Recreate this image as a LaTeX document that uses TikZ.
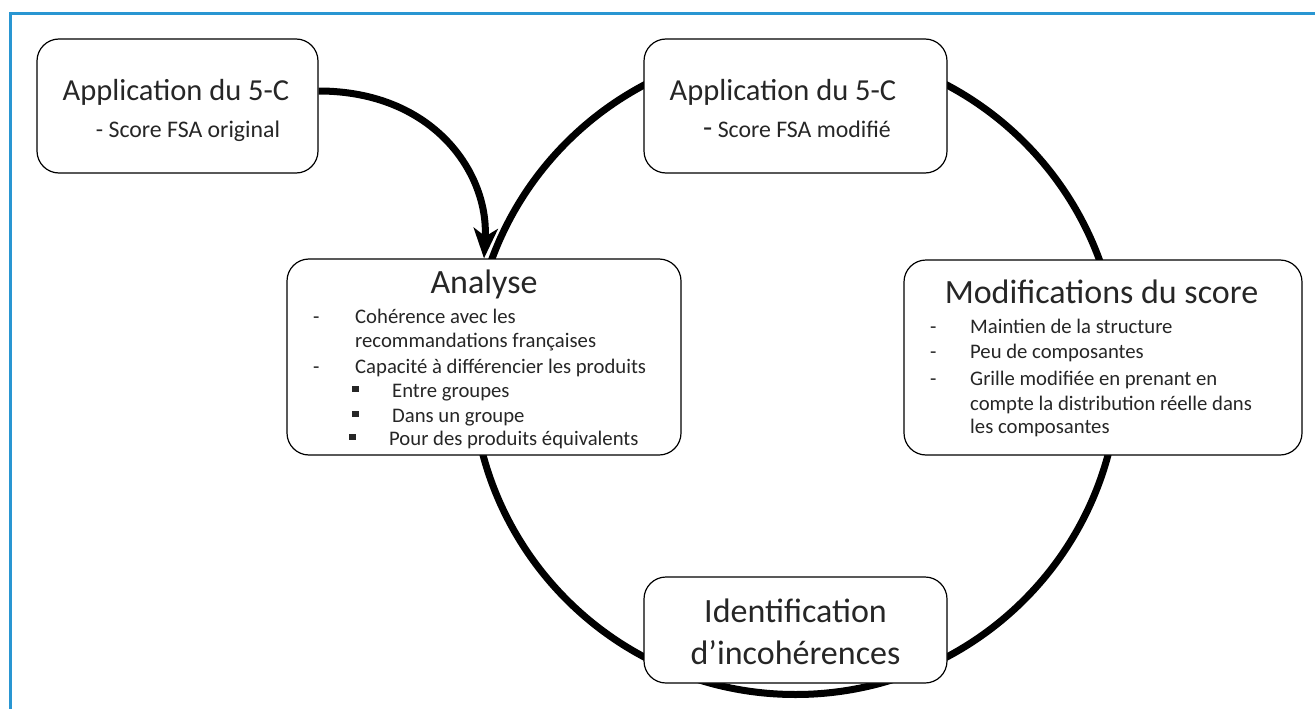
\documentclass[tikz,border=0pt]{standalone}
\usepackage{fontspec}
\setmainfont{Carlito}
\usetikzlibrary{arrows.meta}

\definecolor{frameblue}{RGB}{41,150,210}
\definecolor{ink}{RGB}{38,38,38}

\newcommand{\sqbullet}{\raisebox{5pt}{\rule{6.5pt}{6.5pt}}}

\begin{document}
\begin{tikzpicture}[x=1pt,y=-1pt]
  \tikzset{stepbox/.style={draw,rounded corners=22pt,fill=white,line width=1.2pt,inner sep=0pt},
           big/.style={font=\fontsize{34}{36}\selectfont,anchor=base,text=ink},
           mid/.style={font=\fontsize{30.5}{32}\selectfont,anchor=base,text=ink},
           sub/.style={font=\fontsize{23.8}{26}\selectfont,anchor=base,text=ink},
           item/.style={font=\fontsize{20.7}{24}\selectfont,anchor=base west,inner sep=0pt,text=ink}}
  \useasboundingbox (0,0) rectangle (1315,709);
  % frame
  \draw[frameblue,line width=3pt] (10,709) -- (10,14) -- (1315,14);
  % cycle
  \node[circle,minimum size=647pt,inner sep=0pt] (cycle) at (795.5,371) {};
  \draw[line width=7pt] (cycle.center) circle (323.5);
  % boxes
  \node[stepbox,minimum width=281pt,minimum height=134pt] (orig) at (177.5,106) {};
  \node[stepbox,minimum width=303pt,minimum height=134pt] (modif) at (795.5,106) {};
  \node[stepbox,minimum width=394pt,minimum height=196pt] (ana) at (484,357) {};
  \node[stepbox,minimum width=398pt,minimum height=195pt] (chg) at (1103,357.5) {};
  \node[stepbox,minimum width=303pt,minimum height=106pt] (inco) at (795.5,630) {};
  % arrow into the analysis
  \draw[-{Stealth[length=30pt,width=24pt,inset=8pt]},line width=7pt]
    ([yshift=15pt]orig.east) .. controls +(115,0) and +(5,-85) .. (ana.north);
  % texts
  \node[mid] (t1) at (176,100) {Application du 5-C};
  \node[sub] (s1) at (188,137) {- Score FSA original};
  \node[mid] (t2) at (783,100) {Application du 5-C};
  \node[sub] (s2) at (797,137) {{\fontsize{30}{30}\selectfont -} Score FSA modifié};
  \node[big] (t3) at (484,293) {Analyse};
  \node[item] (d1) at (313,323) {-};
  \node[item] (a1) at (355,323) {Cohérence avec les};
  \node[item] (a2) at (355,347) {recommandations françaises};
  \node[item] (d2) at (313,373) {-};
  \node[item] (a3) at (355,373) {Capacité à différencier les produits};
  \node[item] (b1) at (352,397) {\sqbullet};
  \node[item] (a4) at (392,397) {Entre groupes};
  \node[item] (b2) at (352,422) {\sqbullet};
  \node[item] (a5) at (392,422) {Dans un groupe};
  \node[item] (b3) at (349,445) {\sqbullet};
  \node[item] (a6) at (389,445) {Pour des produits équivalents};
  \node[big] (t4) at (1101.5,303) {Modifications du score};
  \foreach \y in {333,358,385}
    \node[item] at (930,\y) {-};
  \node[item] (m1) at (970,333) {Maintien de la structure};
  \node[item] (m2) at (970,358) {Peu de composantes};
  \node[item] (m3) at (970,385) {Grille modifiée en prenant en};
  \node[item] (m4) at (970,410) {compte la distribution réelle dans};
  \node[item] (m5) at (970,433) {les composantes};
  \node[big] (t5) at (795.5,622) {Identification};
  \node[big] (t6) at (795.5,664) {d’incohérences};
\end{tikzpicture}
\end{document}
